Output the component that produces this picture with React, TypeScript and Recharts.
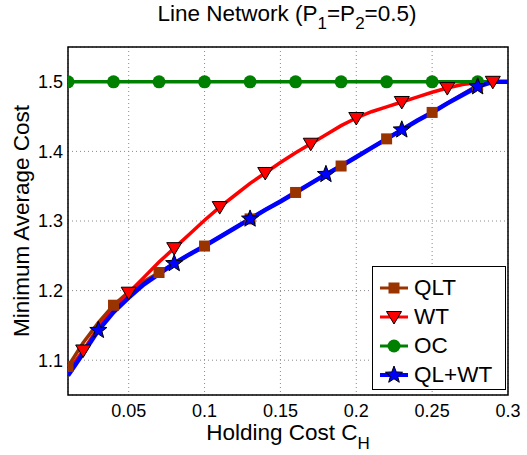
import { LineChart, Line, XAxis, YAxis, CartesianGrid, ReferenceArea, Label } from 'recharts';

const holdingCost = [
  0.01, 0.02, 0.03, 0.04, 0.05, 0.06, 0.07, 0.08, 0.09, 0.1,
  0.11, 0.12, 0.13, 0.14, 0.15, 0.16, 0.17, 0.18, 0.19, 0.2,
  0.21, 0.22, 0.23, 0.24, 0.25, 0.26, 0.27, 0.28, 0.29, 0.3,
];
const qltCost = [
  1.091, 1.125, 1.154, 1.179, 1.198, 1.213, 1.226, 1.239, 1.252, 1.264,
  1.277, 1.29, 1.303, 1.316, 1.328, 1.341, 1.354, 1.367, 1.379, 1.392,
  1.405, 1.418, 1.431, 1.444, 1.456, 1.469, 1.482, 1.495, 1.5, 1.5,
];
const wtCost = [
  1.084, 1.114, 1.147, 1.174, 1.197, 1.219, 1.241, 1.261, 1.281, 1.301,
  1.32, 1.337, 1.354, 1.369, 1.384, 1.398, 1.411, 1.424, 1.437, 1.448,
  1.457, 1.464, 1.471, 1.478, 1.485, 1.491, 1.496, 1.499, 1.5, 1.5,
];
const ocCost = [
  1.5, 1.5, 1.5, 1.5, 1.5, 1.5, 1.5, 1.5, 1.5, 1.5,
  1.5, 1.5, 1.5, 1.5, 1.5, 1.5, 1.5, 1.5, 1.5, 1.5,
  1.5, 1.5, 1.5, 1.5, 1.5, 1.5, 1.5, 1.5, 1.5, 1.5,
];
const qlwtCost = [
  1.078, 1.11, 1.143, 1.169, 1.19, 1.209, 1.224, 1.239, 1.252, 1.264,
  1.277, 1.29, 1.303, 1.316, 1.328, 1.341, 1.354, 1.367, 1.379, 1.392,
  1.405, 1.418, 1.431, 1.444, 1.456, 1.469, 1.481, 1.493, 1.5, 1.5,
];

// where each series shows its marker
const qltMarks = [0.01, 0.04, 0.07, 0.1, 0.13, 0.16, 0.19, 0.22, 0.25, 0.28];
const wtMarks = [0.02, 0.05, 0.08, 0.11, 0.14, 0.17, 0.2, 0.23, 0.26, 0.29];
const ocMarks = [0.01, 0.04, 0.07, 0.1, 0.13, 0.16, 0.19, 0.22, 0.25, 0.28];
const qlwtMarks = [0.03, 0.08, 0.13, 0.18, 0.23, 0.28];

const xTicks = [0.05, 0.1, 0.15, 0.2, 0.25, 0.3];
const yTicks = [1.1, 1.2, 1.3, 1.4, 1.5];

const data = holdingCost.map((x, i) => ({
  x,
  qlt: qltCost[i],
  wt: wtCost[i],
  oc: ocCost[i],
  qlwt: qlwtCost[i],
}));

const FONT = '"Liberation Sans", Arial, Helvetica, sans-serif';
const BROWN = '#993300';
const RED = '#ff0000';
const GREEN = '#008000';
const BLUE = '#0000ff';

type Kind = 'square' | 'tri' | 'circle' | 'star';

function Marker({ kind, cx, cy }: { kind: Kind; cx: number; cy: number }) {
  if (kind === 'square') {
    return <rect x={cx - 5.5} y={cy - 5.5} width={11} height={11} fill={BROWN} />;
  }
  if (kind === 'tri') {
    return (
      <polygon
        points={`${cx - 7.5},${cy - 5.5} ${cx + 7.5},${cy - 5.5} ${cx},${cy + 7}`}
        fill={RED}
        stroke="#000"
        strokeWidth={1}
      />
    );
  }
  if (kind === 'circle') {
    return <circle cx={cx} cy={cy} r={6.5} fill={GREEN} />;
  }
  const pts: string[] = [];
  for (let k = 0; k < 10; k++) {
    const r = k % 2 === 0 ? 9 : 3.8;
    const a = -Math.PI / 2 + (k * Math.PI) / 5;
    pts.push(`${cx + r * Math.cos(a)},${cy + r * Math.sin(a)}`);
  }
  return <polygon points={pts.join(' ')} fill={BLUE} stroke="#000" strokeWidth={1} />;
}

function markerDot(kind: Kind, marks: number[]) {
  return (props: any) => {
    const { cx, cy, payload, index } = props;
    if (!marks.some((m) => Math.abs(m - payload.x) < 1e-6)) return <g key={`n-${kind}-${index}`} />;
    return (
      <g key={`m-${kind}-${index}`}>
        <Marker kind={kind} cx={cx} cy={cy} />
      </g>
    );
  };
}

const renderTexts = () => (
  <g fontFamily={FONT} fill="#000">
    <text x={287} y={21} fontSize={22.5} textAnchor="middle">
      <tspan>Line Network (P</tspan>
      <tspan dy={8} fontSize={17}>1</tspan>
      <tspan dy={-8}>=P</tspan>
      <tspan dy={8} fontSize={17}>2</tspan>
      <tspan dy={-8}>=0.5)</tspan>
    </text>
    <text x={288} y={440} fontSize={22.5} textAnchor="middle">
      <tspan>Holding Cost C</tspan>
      <tspan dy={9} fontSize={17}>H</tspan>
    </text>
    <text x={29} y={221} fontSize={22.5} textAnchor="middle" transform="rotate(-90, 29, 221)">
      Minimum Average Cost
    </text>
  </g>
);

const legendItems: { name: string; color: string; kind: Kind }[] = [
  { name: 'QLT', color: BROWN, kind: 'square' },
  { name: 'WT', color: RED, kind: 'tri' },
  { name: 'OC', color: GREEN, kind: 'circle' },
  { name: 'QL+WT', color: BLUE, kind: 'star' },
];

export default function App() {
  return (
    <div style={{ position: 'absolute', left: 0, top: 0, width: 527, height: 455, background: '#fff' }}>
      <LineChart width={527} height={455} data={data} margin={{ top: 47, right: 19, bottom: 0, left: 0 }}>
        <CartesianGrid stroke="#8a8a8a" strokeDasharray="1 3" strokeWidth={1} />
        <XAxis
          dataKey="x"
          type="number"
          domain={[0.01, 0.3]}
          ticks={xTicks}
          allowDataOverflow
          height={60}
          axisLine={false}
          tickLine={false}
          tickSize={0}
          tickMargin={9}
          tickFormatter={(v: number) => String(v)}
          tick={{ fontSize: 18, fill: '#000', fontFamily: FONT }}
        >
          <Label content={renderTexts} />
        </XAxis>
        <YAxis
          type="number"
          domain={[1.05, 1.55]}
          ticks={yTicks}
          allowDataOverflow
          width={68}
          axisLine={false}
          tickLine={false}
          tickSize={0}
          tickMargin={5}
          tickFormatter={(v: number) => v.toFixed(1)}
          tick={{ fontSize: 18, fill: '#000', fontFamily: FONT }}
        />
        <ReferenceArea x1={0.01} x2={0.3} y1={1.05} y2={1.55} fill="none" stroke="#000" strokeWidth={1.5} />
        <Line dataKey="qlt" stroke={BROWN} strokeWidth={3.5} dot={false} isAnimationActive={false} />
        <Line dataKey="wt" stroke={RED} strokeWidth={3.5} dot={false} isAnimationActive={false} />
        <Line dataKey="oc" stroke={GREEN} strokeWidth={3.5} dot={false} isAnimationActive={false} />
        <Line dataKey="qlwt" stroke={BLUE} strokeWidth={4.5} dot={false} isAnimationActive={false} />
        <Line dataKey="qlt" stroke="none" dot={markerDot('square', qltMarks)} activeDot={false} isAnimationActive={false} />
        <Line dataKey="wt" stroke="none" dot={markerDot('tri', wtMarks)} activeDot={false} isAnimationActive={false} />
        <Line dataKey="oc" stroke="none" dot={markerDot('circle', ocMarks)} activeDot={false} isAnimationActive={false} />
        <Line dataKey="qlwt" stroke="none" dot={markerDot('star', qlwtMarks)} activeDot={false} isAnimationActive={false} />
      </LineChart>
      <div
        style={{
          position: 'absolute',
          left: 372,
          top: 266,
          width: 134,
          height: 124,
          border: '1.5px solid #000',
          background: '#fff',
          boxSizing: 'border-box',
          fontFamily: FONT,
          fontSize: 22.5,
          paddingTop: 6,
        }}
      >
        {legendItems.map((it) => (
          <div key={it.name} style={{ display: 'flex', alignItems: 'center', height: 29 }}>
            <svg width={36} height={22} style={{ marginLeft: 5 }}>
              <line x1={2} y1={11} x2={30} y2={11} stroke={it.color} strokeWidth={it.kind === 'star' ? 4 : 3} />
              <Marker kind={it.kind} cx={16} cy={11} />
            </svg>
            <span style={{ marginLeft: 0, lineHeight: '22px' }}>{it.name}</span>
          </div>
        ))}
      </div>
    </div>
  );
}
